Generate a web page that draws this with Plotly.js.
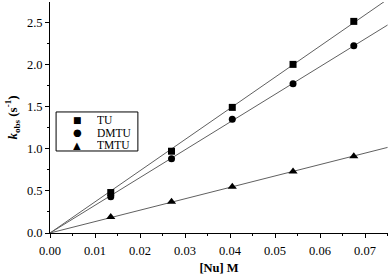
<!DOCTYPE html>
<html>
<head>
<meta charset="utf-8">
<script src="https://cdn.plot.ly/plotly-3.0.1.min.js"></script>
<style>html,body{margin:0;padding:0;background:#fff}#chart{width:390px;height:276px}</style>
</head>
<body>
<div id="chart"></div>
<script>
const nu = [0.0135, 0.027, 0.0405, 0.054, 0.0675];
const kTU = [0.48, 0.97, 1.49, 2.00, 2.51];
const kDMTU = [0.43, 0.88, 1.35, 1.77, 2.22];
const kTMTU = [0.19, 0.37, 0.55, 0.73, 0.91];
const names = ['TU', 'DMTU', 'TMTU'];
const symbols = ['square', 'circle', 'triangle-up'];
const legendGlyphs = ['\u25A0', '\u25CF', '\u25B2'];
const series = [kTU, kDMTU, kTMTU];
const xFitEnd = 0.075;

function slopeThroughOrigin(x, y) {
  let sxy = 0, sxx = 0;
  for (let i = 0; i < x.length; i++) { sxy += x[i] * y[i]; sxx += x[i] * x[i]; }
  return sxy / sxx;
}

const traces = [];
series.forEach((ys, i) => {
  const s = slopeThroughOrigin(nu, ys);
  traces.push({
    x: [0, xFitEnd], y: [0, s * xFitEnd], mode: 'lines', showlegend: false,
    line: {color: '#606060', width: 1}, hoverinfo: 'skip'
  });
});
series.forEach((ys, i) => {
  traces.push({
    x: nu, y: ys, mode: 'markers', name: names[i], showlegend: false,
    marker: {symbol: symbols[i], color: '#000', size: symbols[i] === 'triangle-up' ? 8 : 7}
  });
});

const fam = 'Liberation Serif';
const font = {family: fam, color: '#000'};

// custom compact legend (paper coords of plot area)
const legX0 = 0.018, legX1 = 0.26, legY0 = 0.355, legY1 = 0.524;
const rowY = [0.491, 0.437, 0.383];
const annotations = [];
names.forEach((n, i) => {
  annotations.push({xref: 'paper', yref: 'paper', x: 0.08, y: rowY[i], text: legendGlyphs[i],
    showarrow: false, xanchor: 'center', yanchor: 'middle', height: 10,
    font: {family: 'DejaVu Sans', size: i === 0 ? 9 : 10, color: '#000'}});
  annotations.push({xref: 'paper', yref: 'paper', x: 0.132, y: rowY[i], text: n,
    showarrow: false, xanchor: 'left', yanchor: 'middle', height: 11,
    font: {family: fam, size: 11.5, color: '#000'}});
});

const layout = {
  width: 390, height: 276,
  margin: {l: 50, r: 2, t: 2, b: 43},
  paper_bgcolor: '#fff', plot_bgcolor: '#fff',
  font: Object.assign({size: 13}, font),
  showlegend: false,
  shapes: [{type: 'rect', xref: 'paper', yref: 'paper', x0: legX0, x1: legX1, y0: legY0, y1: legY1,
    line: {color: '#000', width: 1}, fillcolor: 'rgba(0,0,0,0)'}],
  annotations: annotations,
  xaxis: {
    range: [0, 0.0751], dtick: 0.01, tick0: 0, tickformat: '.2f',
    showgrid: false, zeroline: false, showline: true, linecolor: '#000', linewidth: 1,
    ticks: 'outside', ticklen: 4, tickcolor: '#000', ticklabelstandoff: 2,
    minor: {dtick: 0.005, ticks: 'outside', ticklen: 2, tickcolor: '#000', showgrid: false},
    tickfont: Object.assign({size: 12.5}, font),
    title: {text: '<b>[Nu] M</b>', font: Object.assign({size: 12.5}, font), standoff: 6}
  },
  yaxis: {
    range: [0, 2.74], dtick: 0.5, tick0: 0, tickformat: '.1f',
    showgrid: false, zeroline: false, showline: true, linecolor: '#000', linewidth: 1,
    ticks: 'outside', ticklen: 4, tickcolor: '#000',
    minor: {dtick: 0.25, ticks: 'outside', ticklen: 2, tickcolor: '#000', showgrid: false},
    tickfont: Object.assign({size: 12.5}, font),
    title: {text: '<b><i>k</i><sub>obs</sub> (s<sup>-1</sup>)</b>', font: Object.assign({size: 13}, font), standoff: 6}
  }
};
Plotly.newPlot('chart', traces, layout, {displayModeBar: false, staticPlot: true});
</script>
</body>
</html>
